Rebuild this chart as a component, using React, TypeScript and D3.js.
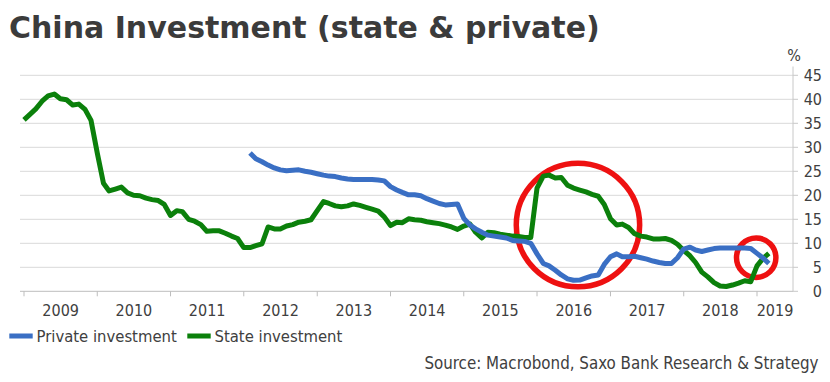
import React from 'react';
import * as d3 from 'd3';

// Monthly values, State investment starts Jan 2009
const stateStart = [2009, 0];
const stateValues = [
  35.7, 36.9, 38.0, 39.6, 40.7, 41.1, 40.1, 39.9, 38.8, 39.0, 37.9, 35.6,
  28.8, 22.5, 20.9, 21.3, 21.7, 20.5, 20.0, 19.9, 19.4, 19.1, 18.9, 18.1,
  15.8, 16.8, 16.6, 15.0, 14.6, 13.9, 12.5, 12.6, 12.6, 12.1, 11.5, 11.0,
  9.1, 9.1, 9.5, 9.9, 13.4, 13.0, 13.0, 13.6, 13.9, 14.4, 14.6, 14.9,
  16.8, 18.7, 18.3, 17.8, 17.6, 17.8, 18.2, 17.9, 17.5, 17.1, 16.7, 15.5,
  13.7, 14.4, 14.3, 15.1, 14.9, 14.8, 14.5, 14.3, 14.1, 13.8, 13.4, 12.9,
  13.6, 14.0, 12.3, 11.1, 12.3, 12.2, 11.9, 11.7, 11.5, 11.4, 11.2, 11.2,
  21.5, 24.0, 24.2, 23.6, 23.7, 22.1, 21.5, 21.1, 20.7, 20.2, 19.8, 18.1,
  15.1, 13.8, 14.0, 13.3, 12.0, 11.5, 11.3, 10.9, 10.9, 11.0, 10.6, 9.8,
  8.5, 7.4, 6.0, 4.0, 3.0, 1.8, 1.1, 1.0, 1.3, 1.7, 2.2, 2.0,
  5.3, 6.9, 7.9,
];

// Private investment starts Feb 2012
const privateStart = [2012, 1];
const privateValues = [
  28.8, 27.6, 27.0, 26.3, 25.7, 25.3, 25.1, 25.2, 25.3, 25.0, 24.8,
  24.5, 24.2, 24.0, 23.9, 23.6, 23.4, 23.3, 23.3, 23.3, 23.3, 23.2, 23.0,
  21.8, 21.1, 20.6, 20.1, 20.1, 19.9, 19.3, 18.8, 18.3, 18.0, 18.1, 18.2,
  15.2, 13.8, 13.0, 12.3, 11.7, 11.5, 11.3, 11.1, 10.6, 10.5, 10.4, 10.0,
  7.8, 5.8, 5.3, 4.4, 3.4, 2.6, 2.3, 2.35, 2.8, 3.2, 3.4, 5.6,
  7.2, 7.8, 7.2, 7.2, 7.3, 7.0, 6.7, 6.3, 6.0, 5.8, 5.8, 7.0,
  8.8, 9.2, 8.6, 8.3, 8.6, 8.9, 9.0, 9.0, 9.0, 9.0, 9.0, 8.9,
  7.9, 6.9, 5.8,
];

const yTicks = [0, 5, 10, 15, 20, 25, 30, 35, 40, 45];
const yearLabels = [2009, 2010, 2011, 2012, 2013, 2014, 2015, 2016, 2017, 2018, 2019];

const circleDates = ['2016-07-23', '2018-12-28'];
const circleValues = [13.8, 7.0];
const circleRadii = [61.7, 19.7];

const seriesNames = ['Private investment', 'State investment'];
const seriesColors = ['#3a6fc4', '#0b800b'];

const title = 'China Investment (state & private)';
const source = 'Source: Macrobond, Saxo Bank Research & Strategy';

const toSeries = (start: number[], vals: number[]) =>
  vals.map((v, i) => ({ date: new Date(start[0], start[1] + i, 1), value: v }));

export default function App() {
  const W = 830;
  const H = 382;
  const x = d3
    .scaleTime()
    .domain([new Date(2009, 0, 1), new Date(2019, 0, 1)])
    .range([24, 757]);
  const y = d3.scaleLinear().domain([0, 45]).range([291.3, 75.3]);
  const left = 20;
  const right = 793;

  const line = d3
    .line<{ date: Date; value: number }>()
    .x((d) => x(d.date))
    .y((d) => y(d.value));

  const state = toSeries(stateStart, stateValues);
  const priv = toSeries(privateStart, privateValues);

  const font = "'DejaVu Sans Condensed', 'DejaVu Sans', Verdana, sans-serif";
  const textColor = '#404040';

  return (
    <svg
      width={W}
      height={H}
      style={{ position: 'absolute', left: 0, top: 0, background: '#fff' }}
      fontFamily={font}
    >
      <rect x={0} y={0} width={W} height={H} fill="#fff" />
      <text
        x={9}
        y={37.5}
        fontFamily="'DejaVu Sans', Verdana, sans-serif"
        fontWeight="bold"
        fontSize={30}
        fill="#3b3b3b"
      >
        {title}
      </text>

      {/* gridlines */}
      {yTicks.map((t) => (
        <line
          key={'g' + t}
          x1={left}
          x2={right}
          y1={y(t)}
          y2={y(t)}
          stroke={t === 0 ? '#bdbdbd' : '#d9d9d9'}
          strokeWidth={1}
        />
      ))}
      {/* right axis */}
      <line x1={right} x2={right} y1={66.5} y2={y(0)} stroke="#c8c8c8" strokeWidth={1} />
      {yTicks.map((t) => (
        <g key={'yt' + t}>
          <line x1={right} x2={right + 5} y1={y(t)} y2={y(t)} stroke="#c8c8c8" />
          <text x={822} y={y(t) + 6} textAnchor="end" fontSize={16} fill={textColor}>
            {t}
          </text>
        </g>
      ))}
      <text x={794} y={61} textAnchor="middle" fontSize={16} fill={textColor}>
        %
      </text>

      {/* x axis ticks */}
      {yearLabels.map((yr) => {
        const x0 = x(new Date(yr, 0, 1));
        const x1 = yr === 2019 ? right : x(new Date(yr + 1, 0, 1));
        return (
          <g key={'xt' + yr}>
            <line x1={x0} x2={x0} y1={y(0)} y2={y(0) + 5} stroke="#bdbdbd" />
            <text x={(x0 + x1) / 2} y={315.5} textAnchor="middle" fontSize={16} fill={textColor}>
              {yr}
            </text>
          </g>
        );
      })}

      {/* annotation circles */}
      {circleDates.map((d, i) => (
        <circle
          key={'c' + i}
          cx={x(new Date(d))}
          cy={y(circleValues[i])}
          r={circleRadii[i]}
          fill="none"
          stroke="#ee1111"
          strokeWidth={5.5}
        />
      ))}

      {/* series */}
      <path
        d={line(state) || ''}
        fill="none"
        stroke={seriesColors[1]}
        strokeWidth={5}
        strokeLinejoin="round"
        strokeLinecap="butt"
      />
      <path
        d={line(priv) || ''}
        fill="none"
        stroke={seriesColors[0]}
        strokeWidth={5}
        strokeLinejoin="round"
        strokeLinecap="butt"
      />

      {/* legend */}
      <rect x={9.3} y={333.5} width={23.4} height={5} fill={seriesColors[0]} />
      <text x={36.5} y={342} fontSize={16.5} fill={textColor}>
        {seriesNames[0]}
      </text>
      <rect x={187.3} y={333.5} width={23.4} height={5} fill={seriesColors[1]} />
      <text x={214.5} y={342} fontSize={16.5} fill={textColor}>
        {seriesNames[1]}
      </text>

      <text x={818.5} y={369} textAnchor="end" fontSize={16.8} fill={textColor}>
        {source}
      </text>
    </svg>
  );
}
